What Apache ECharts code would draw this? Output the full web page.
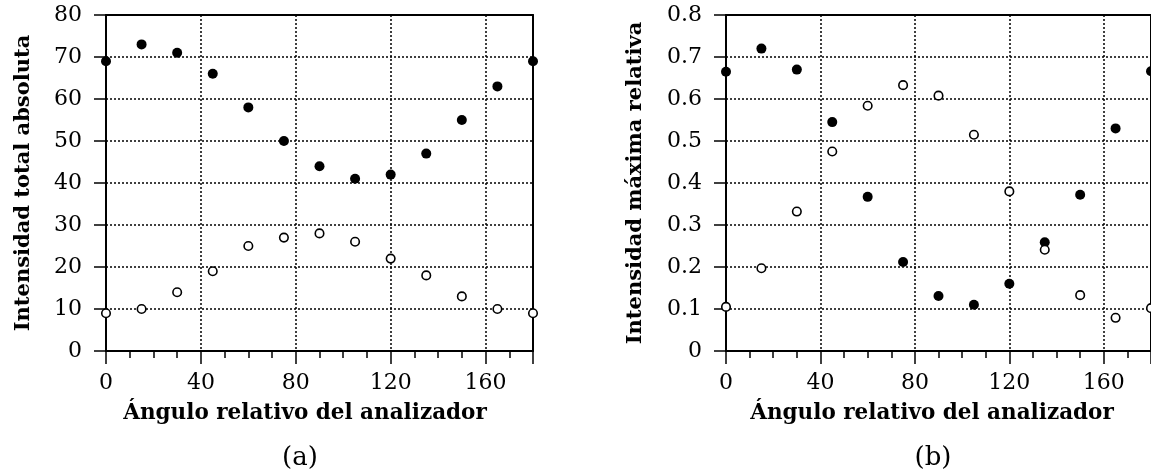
<!DOCTYPE html>
<html>
<head>
<meta charset="utf-8">
<script src="https://cdn.jsdelivr.net/npm/echarts@6/dist/echarts.min.js"></script>
<style>
html,body{margin:0;padding:0;background:#fff;}
#chart{width:1151px;height:472px;}
</style>
</head>
<body>
<div id="chart"></div>
<script>
// Analyzer relative angle (degrees)
const angles = [0, 15, 30, 45, 60, 75, 90, 105, 120, 135, 150, 165, 180];
// (a) Intensidad total absoluta
const totalFilled = [69, 73, 71, 66, 58, 50, 44, 41, 42, 47, 55, 63, 69];
const totalOpen   = [9, 10, 14, 19, 25, 27, 28, 26, 22, 18, 13, 10, 9];
// (b) Intensidad máxima relativa
const maxFilled = [0.665, 0.72, 0.67, 0.545, 0.367, 0.212, 0.131, 0.11, 0.16, 0.259, 0.372, 0.53, 0.666];
const maxOpen   = [0.105, 0.197, 0.332, 0.475, 0.584, 0.633, 0.608, 0.515, 0.38, 0.241, 0.133, 0.079, 0.102];
// Texts
const xTitle = 'Ángulo relativo del analizador';
const yTitleA = 'Intensidad total absoluta';
const yTitleB = 'Intensidad máxima relativa';
const panelLabels = ['(a)', '(b)'];

const tickFont = 'DejaVu Serif';
const titleFont = 'DejaVu Serif';
const ink = '#000';

function pairs(xs, ys) { return xs.map((x, i) => [x, ys[i]]); }

function xMain(gi, shiftPad) {
  return {
    gridIndex: gi, type: 'value', min: 0, max: 180, interval: 40, position: 'bottom',
    axisLine: { show: true, onZero: false, lineStyle: { color: ink, width: 2 } },
    axisTick: { show: true, length: 13, lineStyle: { color: ink, width: 1.5 } },
    minorTick: { show: true, splitNumber: 4, length: 7, lineStyle: { color: ink, width: 1.5 } },
    axisLabel: { color: ink, fontFamily: tickFont, fontSize: 22, margin: 21, showMaxLabel: false },
    splitLine: { show: true, lineStyle: { color: ink, width: 1.5, type: [2, 2] } },
    name: xTitle, nameLocation: 'middle', nameGap: 51,
    nameTextStyle: { color: ink, fontFamily: titleFont, fontWeight: 'bold', fontSize: 21.5,
      padding: [0, shiftPad, 0, 0] }
  };
}
function xTop(gi) {
  return {
    gridIndex: gi, type: 'value', min: 0, max: 180, position: 'top',
    axisLine: { show: true, onZero: false, lineStyle: { color: ink, width: 2 } },
    axisTick: { show: false }, axisLabel: { show: false }, splitLine: { show: false }
  };
}
function yMain(gi, max, interval, name, gap) {
  return {
    gridIndex: gi, type: 'value', min: 0, max: max, interval: interval, position: 'left',
    axisLine: { show: true, onZero: false, lineStyle: { color: ink, width: 2 } },
    axisTick: { show: true, length: 12, lineStyle: { color: ink, width: 1.5 } },
    axisLabel: { color: ink, fontFamily: tickFont, fontSize: 22, margin: 24 },
    splitLine: { show: true, lineStyle: { color: ink, width: 1.5, type: [2, 2] } },
    name: name, nameLocation: 'middle', nameGap: gap,
    nameTextStyle: { color: ink, fontFamily: titleFont, fontWeight: 'bold', fontSize: 21 }
  };
}
function yRight(gi, max) {
  return {
    gridIndex: gi, type: 'value', min: 0, max: max, position: 'right',
    axisLine: { show: true, onZero: false, lineStyle: { color: ink, width: 2 } },
    axisTick: { show: false }, axisLabel: { show: false }, splitLine: { show: false }
  };
}
function filled(xi, yi, data) {
  return { type: 'scatter', xAxisIndex: xi, yAxisIndex: yi, data: data, clip: false,
    symbol: 'circle', symbolSize: 10, itemStyle: { color: ink, opacity: 1 }, z: 5 };
}
function open(xi, yi, data) {
  return { type: 'scatter', xAxisIndex: xi, yAxisIndex: yi, data: data, clip: false,
    symbol: 'circle', symbolSize: 8.5, itemStyle: { color: '#fff', borderColor: ink, borderWidth: 1.6, opacity: 1 }, z: 5 };
}

const chart = echarts.init(document.getElementById('chart'), null, { renderer: 'canvas' });
chart.setOption({
  backgroundColor: '#fff',
  animation: false,
  grid: [
    { left: 106, top: 15, width: 427, height: 336 },
    { left: 726, top: 15, width: 430, height: 336 }
  ],
  xAxis: [xMain(0, 29), xTop(0), xMain(1, 13), xTop(1)],
  yAxis: [
    yMain(0, 80, 10, yTitleA, 72), yRight(0, 80),
    yMain(1, 0.8, 0.1, yTitleB, 80), yRight(1, 0.8)
  ],
  series: [
    filled(0, 0, pairs(angles, totalFilled)),
    open(0, 0, pairs(angles, totalOpen)),
    filled(2, 2, pairs(angles, maxFilled)),
    open(2, 2, pairs(angles, maxOpen))
  ],
  graphic: [
    { type: 'text', x: 300, y: 445, style: { text: panelLabels[0], fill: ink, font: '26px "DejaVu Serif"', textAlign: 'center' } },
    { type: 'text', x: 933, y: 445, style: { text: panelLabels[1], fill: ink, font: '26px "DejaVu Serif"', textAlign: 'center' } }
  ]
});
</script>
</body>
</html>
